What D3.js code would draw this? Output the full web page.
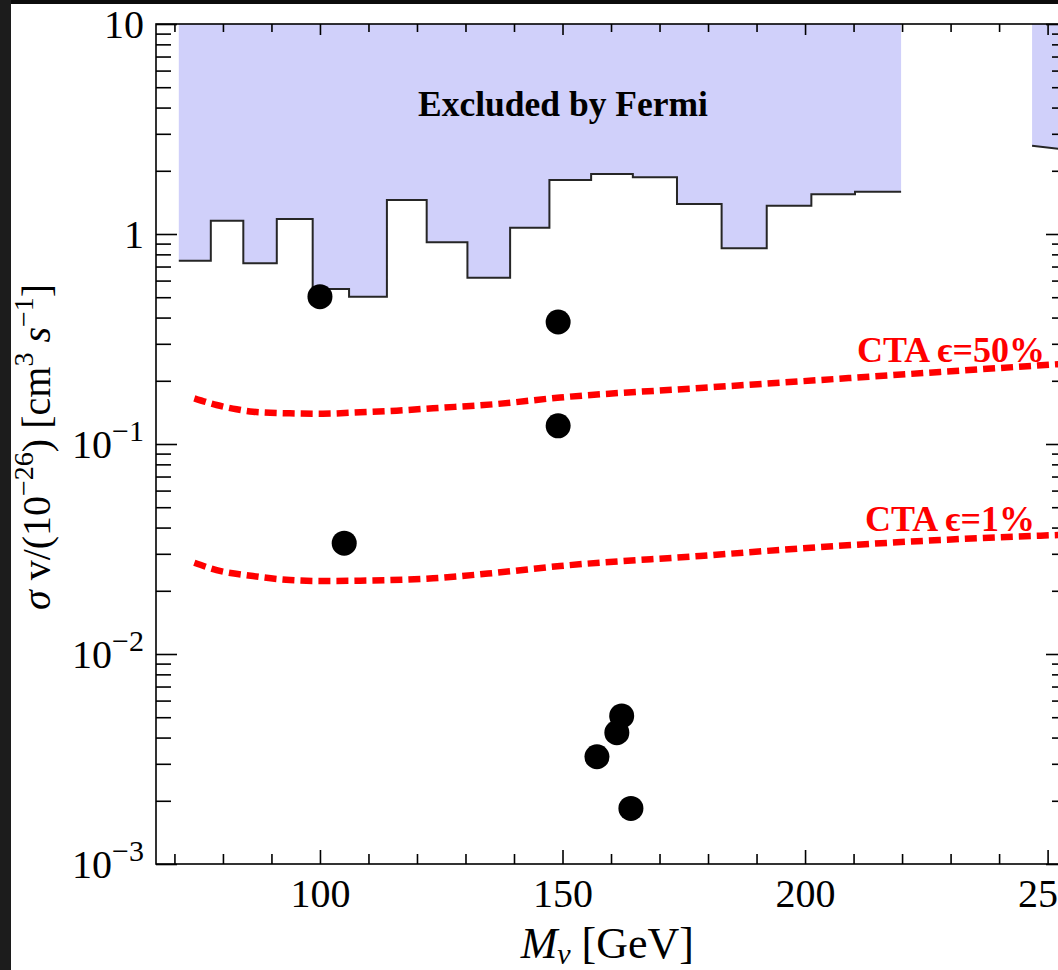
<!DOCTYPE html>
<html>
<head>
<meta charset="utf-8">
<script src="https://cdn.jsdelivr.net/npm/d3@7"></script>
<style>
  body { margin: 0; background: #fff; }
  svg { display: block; }
  text { font-family: "Liberation Serif", "Times New Roman", serif; }
</style>
</head>
<body>
<svg id="chart" width="1058" height="970"></svg>
<script>
// Axis ticks
const massTicks = [100, 150, 200, 250];
const massMinorTicks = [70, 80, 90, 110, 120, 130, 140, 160, 170, 180, 190, 210, 220, 230, 240];
const sigmaTicks = [1e-3, 1e-2, 1e-1, 1, 10];
const sigmaTickBase = ["10", "10", "10", "1", "10"];
const sigmaTickExp = ["−3", "−2", "−1", "", ""];

// Fermi dwarf-galaxy upper limit (stepped bins)
const fermiEdges = [70.9, 77.5, 84.2, 91.1, 98.5, 106.0, 113.8, 122.0, 130.4, 139.2,
                    147.3, 155.9, 164.5, 173.6, 182.8, 192.1, 201.3, 210.3, 219.8];
const fermiLimits = [0.746, 1.157, 0.725, 1.179, 0.547, 0.503, 1.452, 0.913, 0.619,
                     1.072, 1.808, 1.931, 1.862, 1.389, 0.855, 1.364, 1.545, 1.590];
const fermiTailMass = [246.8, 254];
const fermiTailLimit = [2.63, 2.52];

// CTA sensitivity curves
const cta50Mass = [74.1, 78.7, 82.8, 86.2, 93.8, 100.6, 108.3, 115.8, 123.3, 136.4, 149.5, 178.4, 203.1, 227.8, 254];
const cta50Sigma = [0.165, 0.1534, 0.1463, 0.1425, 0.140, 0.1394, 0.1416, 0.1441, 0.148, 0.155, 0.1665, 0.1848, 0.2017, 0.2203, 0.2415];
const cta1Mass = [74.1, 78.7, 86.2, 93.8, 100.6, 108.3, 123.3, 136.4, 149.5, 178.4, 203.1, 227.8, 254];
const cta1Sigma = [0.0272, 0.0251, 0.0235, 0.02251, 0.02227, 0.02234, 0.02294, 0.02438, 0.02624, 0.0293, 0.0323, 0.0349, 0.0370];

// Benchmark model points
const modelMass = [100.0, 105.0, 149.1, 149.1, 162.2, 161.2, 157.1, 164.1];
const modelSigma = [0.503, 0.0337, 0.381, 0.122, 0.00507, 0.00422, 0.00324, 0.00184];

const svg = d3.select("#chart");
const W = 1058, H = 970;
const plotLeft = 156, plotRight = 1067, plotTop = 24, plotBottom = 864;

svg.append("rect").attr("width", W).attr("height", H).attr("fill", "#fff");

const x = d3.scaleLinear().domain([66.2, 254]).range([plotLeft, plotRight]);
const y = d3.scaleLog().domain([1e-3, 10]).range([plotBottom, plotTop]);

svg.append("clipPath").attr("id", "plotclip")
  .append("rect").attr("x", plotLeft).attr("y", plotTop)
  .attr("width", plotRight - plotLeft).attr("height", plotBottom - plotTop);
const plot = svg.append("g").attr("clip-path", "url(#plotclip)");

// Fermi excluded region
const fermiData = fermiEdges.map((m, i) => ({ m, v: fermiLimits[Math.min(i, fermiLimits.length - 1)] }));
const area = d3.area().curve(d3.curveStepAfter)
  .x(d => x(d.m)).y0(y(10)).y1(d => y(d.v));
const line = d3.line().curve(d3.curveStepAfter).x(d => x(d.m)).y(d => y(d.v));
plot.append("path").datum(fermiData).attr("d", area).attr("fill", "#d0d0fa");
plot.append("path").datum(fermiData).attr("d", line)
  .attr("fill", "none").attr("stroke", "#262626").attr("stroke-width", 2);

const tailData = fermiTailMass.map((m, i) => ({ m, v: fermiTailLimit[i] }));
plot.append("path").datum(tailData)
  .attr("d", d3.area().x(d => x(d.m)).y0(y(10)).y1(d => y(d.v)))
  .attr("fill", "#d0d0fa");
plot.append("path").datum(tailData)
  .attr("d", d3.line().x(d => x(d.m)).y(d => y(d.v)))
  .attr("fill", "none").attr("stroke", "#262626").attr("stroke-width", 2);

plot.append("text").attr("x", 563).attr("y", 116).attr("text-anchor", "middle")
  .attr("font-size", 35.5).attr("font-weight", "bold").attr("fill", "#000")
  .text("Excluded by Fermi");

// CTA dashed curves
const ctaLine = d3.line().curve(d3.curveMonotoneX).x(d => x(d.m)).y(d => y(d.v));
[[cta50Mass, cta50Sigma], [cta1Mass, cta1Sigma]].forEach(([ms, vs]) => {
  plot.append("path").datum(ms.map((m, i) => ({ m, v: vs[i] })))
    .attr("d", ctaLine).attr("fill", "none").attr("stroke", "#ff0000")
    .attr("stroke-width", 6.5).attr("stroke-dasharray", "12,6");
});

plot.append("text").attr("x", 1045).attr("y", 362).attr("text-anchor", "end")
  .attr("font-size", 36).attr("font-weight", "bold").attr("fill", "#ff0000")
  .text("CTA ϵ=50%");
plot.append("text").attr("x", 1035).attr("y", 531).attr("text-anchor", "end")
  .attr("font-size", 36).attr("font-weight", "bold").attr("fill", "#ff0000")
  .text("CTA ϵ=1%");

// Model points
plot.selectAll("circle.pt").data(modelMass).join("circle").attr("class", "pt")
  .attr("cx", d => x(d)).attr("cy", (d, i) => y(modelSigma[i])).attr("r", 12.5).attr("fill", "#000");

// Frame and ticks
const axes = svg.append("g");
function styleAxis(g) {
  g.select(".domain").remove();
  g.selectAll(".tick line").attr("stroke", "#000").attr("stroke-width", 1.6);
}
const yMinor = [];
for (let k = -3; k <= 0; k++) for (let j = 2; j <= 9; j++) yMinor.push(j * Math.pow(10, k));

axes.append("g").attr("transform", `translate(0,${plotBottom})`)
  .call(d3.axisBottom(x).tickValues(massMinorTicks).tickSize(-10).tickFormat("")).call(styleAxis);
axes.append("g").attr("transform", `translate(0,${plotBottom})`)
  .call(d3.axisBottom(x).tickValues(massTicks).tickSize(-14).tickPadding(15).tickFormat(d3.format("d")))
  .call(styleAxis)
  .call(g => g.selectAll("text").attr("font-size", 40).attr("fill", "#000")
    .attr("font-family", "\"Liberation Serif\", serif"));
axes.append("g").attr("transform", `translate(0,${plotTop})`)
  .call(d3.axisTop(x).tickValues(massMinorTicks).tickSize(-8).tickFormat("")).call(styleAxis);
axes.append("g").attr("transform", `translate(0,${plotTop})`)
  .call(d3.axisTop(x).tickValues(massTicks).tickSize(-11).tickFormat("")).call(styleAxis);

axes.append("g").attr("transform", `translate(${plotLeft},0)`)
  .call(d3.axisLeft(y).tickValues(yMinor).tickSize(-15).tickFormat("")).call(styleAxis);
axes.append("g").attr("transform", `translate(${plotLeft},0)`)
  .call(d3.axisLeft(y).tickValues(sigmaTicks).tickSize(-21).tickFormat("")).call(styleAxis);
axes.append("g").attr("transform", `translate(${plotRight},0)`)
  .call(d3.axisRight(y).tickValues(yMinor).tickSize(-15).tickFormat("")).call(styleAxis);
axes.append("g").attr("transform", `translate(${plotRight},0)`)
  .call(d3.axisRight(y).tickValues(sigmaTicks).tickSize(-21).tickFormat("")).call(styleAxis);

axes.append("rect").attr("x", plotLeft).attr("y", plotTop)
  .attr("width", plotRight - plotLeft).attr("height", plotBottom - plotTop)
  .attr("fill", "none").attr("stroke", "#000").attr("stroke-width", 1.6);

// Y tick labels with superscript exponents
sigmaTicks.forEach((v, i) => {
  const t = axes.append("text").attr("x", 144).attr("y", y(v) + 14)
    .attr("text-anchor", "end").attr("font-size", 40).attr("fill", "#000");
  t.append("tspan").text(sigmaTickBase[i]);
  if (sigmaTickExp[i]) t.append("tspan").attr("dy", -17).attr("font-size", 30).text(sigmaTickExp[i]);
});

// Axis titles
const xt = svg.append("text").attr("x", 694).attr("y", 958).attr("text-anchor", "end")
  .attr("font-size", 44).attr("fill", "#000");
xt.append("tspan").attr("font-style", "italic").text("M");
xt.append("tspan").attr("font-style", "italic").attr("font-size", 30).attr("dy", 6).text("ν");
xt.append("tspan").attr("dy", -6).text(" [GeV]");

const yt = svg.append("text").attr("transform", "translate(50,447) rotate(-90)")
  .attr("text-anchor", "middle").attr("font-size", 40).attr("fill", "#000");
yt.append("tspan").attr("font-style", "italic").text("σ");
yt.append("tspan").text(" v/(10");
yt.append("tspan").attr("font-size", 28).attr("dy", -17).text("−26");
yt.append("tspan").attr("dy", 17).text(") [cm");
yt.append("tspan").attr("font-size", 28).attr("dy", -17).text("3");
yt.append("tspan").attr("dy", 17).text(" ");
yt.append("tspan").attr("font-style", "italic").text("s");
yt.append("tspan").attr("font-size", 28).attr("dy", -17).text("−1");
yt.append("tspan").attr("dy", 17).text("]");

// Dark window edges
svg.append("rect").attr("x", 0).attr("y", 0).attr("width", W).attr("height", 4).attr("fill", "#0c0c0c");
svg.append("rect").attr("x", 0).attr("y", 0).attr("width", 11).attr("height", H).attr("fill", "#1c1c1c");
</script>
</body>
</html>
